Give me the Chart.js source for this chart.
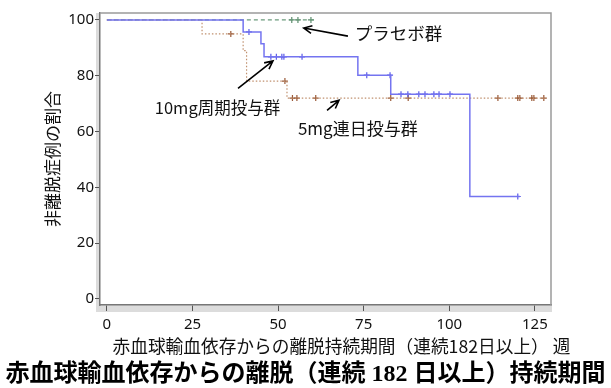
<!DOCTYPE html>
<html>
<head>
<meta charset="utf-8">
<script src="https://cdn.jsdelivr.net/npm/chart.js@4.4.1/dist/chart.umd.min.js"></script>
<style>
  html, body { margin: 0; padding: 0; background: #fff; }
</style>
</head>
<body>
<canvas id="kmChart" width="611" height="388"></canvas>
<script>
// tick labels
var xTicks = [0, 25, 50, 75, 100, 125];
var yTicks = [0, 20, 40, 60, 80, 100];

// placebo
var placeboTime = [0, 60.5];
var placeboRate = [100, 100];
var placeboCensor = [54.0, 55.8, 59.6];

// 10mg cyclic
var cyclicTime = [0, 39.8, 45.0, 45.9, 73.3, 82.9, 106.0, 120.6];
var cyclicRate = [100, 95.7, 91.5, 86.8, 80.2, 73.4, 36.7, 36.7];
var cyclicCensor = [41.5, 47.9, 49.5, 51.1, 51.7, 57.0, 75.9, 82.7, 85.9, 87.9, 91.1, 92.9, 95.5, 97.0, 100.2, 120.0];

// 5mg daily
var dailyTime = [0, 27.8, 39.8, 40.8, 52.6, 128.5];
var dailyRate = [100, 95.0, 89.0, 78.1, 72.0, 72.0];
var dailyCensor = [36.2, 52.0, 54.2, 55.5, 61.0, 82.9, 88.0, 114.2, 120.0, 120.6, 124.1, 124.7, 127.6];

function stepPoints(t, s) {
    return t.map(function(v, i) { return {x: v, y: s[i]}; });
}
function levelAt(t, s, c) {
    var y = s[0];
    for (var i = 0; i < t.length; i++) { if (t[i] <= c) y = s[i]; }
    return y;
}
function censorPoints(t, s, cens) {
    return cens.map(function(c) { return {x: c, y: levelAt(t, s, c)}; });
}

var jpFont = '"Noto Sans CJK JP", sans-serif';

function arrow(ctx, x1, y1, x2, y2) {
    var ang = Math.atan2(y2 - y1, x2 - x1), h = 9;
    ctx.beginPath();
    ctx.moveTo(x1, y1);
    ctx.lineTo(x2, y2);
    ctx.moveTo(x2 - h * Math.cos(ang - 0.45), y2 - h * Math.sin(ang - 0.45));
    ctx.lineTo(x2, y2);
    ctx.lineTo(x2 - h * Math.cos(ang + 0.45), y2 - h * Math.sin(ang + 0.45));
    ctx.stroke();
}

// arrows + group labels, in data units
var notes = [
    {text: "プラセボ群", tx: 72.4, ty: 95.3, from: [70.4, 94.2], to: [57.5, 97.1], size: 17.5},
    {text: "10mg周期投与群", tx: 14.0, ty: 68.7, from: [38.3, 75.5], to: [48.5, 85.3], size: 16.5},
    {text: "5mg連日投与群", tx: 55.8, ty: 61.2, from: [64.3, 67.6], to: [67.8, 71.2], size: 17}
];

var framePlugin = {
    id: "frame",
    beforeDraw: function(chart) {
        var ctx = chart.ctx, a = chart.chartArea;
        ctx.save();
        ctx.fillStyle = "#fff";
        ctx.fillRect(0, 0, chart.width, chart.height);
        ctx.fillStyle = "#dcdcdc";
        ctx.fillRect(a.left - 4, a.top, 4, a.bottom - a.top + 7);
        ctx.fillRect(a.left - 4, a.bottom, a.right - a.left + 5, 7);
        ctx.restore();
    },
    afterDraw: function(chart) {
        var ctx = chart.ctx, a = chart.chartArea;
        var xs = chart.scales.x, ys = chart.scales.y;
        ctx.save();
        ctx.strokeStyle = "#9a9a9a";
        ctx.lineWidth = 1.5;
        ctx.beginPath();
        ctx.moveTo(a.left, a.top);
        ctx.lineTo(a.right, a.top);
        ctx.lineTo(a.right, a.bottom);
        ctx.stroke();

        ctx.fillStyle = "#111";
        ctx.strokeStyle = "#000";
        ctx.lineWidth = 1.6;
        ctx.textBaseline = "middle";
        ctx.textAlign = "left";
        notes.forEach(function(n) {
            ctx.font = n.size + "px " + jpFont;
            ctx.fillText(n.text, xs.getPixelForValue(n.tx), ys.getPixelForValue(n.ty));
            arrow(ctx, xs.getPixelForValue(n.from[0]), ys.getPixelForValue(n.from[1]),
                  xs.getPixelForValue(n.to[0]), ys.getPixelForValue(n.to[1]));
        });

        // x axis title
        ctx.textAlign = "center";
        ctx.font = "17.7px " + jpFont;
        ctx.fillText("赤血球輸血依存からの離脱持続期間（連続182日以上） 週", (a.left + a.right) / 2 + 16, 346);

        // caption under the chart
        ctx.fillStyle = "#000";
        ctx.font = 'bold 24px "Liberation Serif", "Noto Sans CJK JP", serif';
        ctx.fillText("赤血球輸血依存からの離脱（連続 182 日以上）持続期間", chart.width / 2, 375);
        ctx.restore();
    }
};

document.addEventListener("DOMContentLoaded", function() {
    var ctx = document.getElementById("kmChart").getContext("2d");
    new Chart(ctx, {
        type: "line",
        data: {
            datasets: [{
                label: "10mg周期投与群",
                data: stepPoints(cyclicTime, cyclicRate),
                stepped: "before",
                borderColor: "#7474f0",
                borderWidth: 1.5,
                pointRadius: 0,
                fill: false
            }, {
                label: "10mg censored",
                data: censorPoints(cyclicTime, cyclicRate, cyclicCensor),
                showLine: false,
                pointStyle: "cross",
                pointRadius: 3,
                borderColor: "#5a5ae8",
                borderWidth: 1.2
            }, {
                label: "5mg連日投与群",
                data: stepPoints(dailyTime, dailyRate),
                stepped: "before",
                borderColor: "#c0906e",
                borderDash: [1.5, 2],
                borderWidth: 1.2,
                pointRadius: 0,
                fill: false
            }, {
                label: "5mg censored",
                data: censorPoints(dailyTime, dailyRate, dailyCensor),
                showLine: false,
                pointStyle: "cross",
                pointRadius: 3,
                borderColor: "#9a5a38",
                borderWidth: 1.2
            }, {
                label: "プラセボ群",
                data: stepPoints(placeboTime, placeboRate),
                stepped: "before",
                borderColor: "#6b9a7c",
                borderDash: [4, 3],
                borderWidth: 1.2,
                pointRadius: 0,
                fill: false
            }, {
                label: "placebo censored",
                data: censorPoints(placeboTime, placeboRate, placeboCensor),
                showLine: false,
                pointStyle: "cross",
                pointRadius: 3,
                borderColor: "#5f8f6f",
                borderWidth: 1.2
            }]
        },
        options: {
            responsive: false,
            animation: false,
            layout: { padding: { top: 13, right: 60, left: 0, bottom: 26.4 } },
            plugins: {
                legend: { display: false },
                tooltip: { enabled: false }
            },
            scales: {
                x: {
                    type: "linear",
                    min: -2,
                    max: 129.7,
                    afterBuildTicks: function(s) { s.ticks = xTicks.map(function(v) { return {value: v}; }); },
                    afterFit: function(s) { s.height = 56.6; },
                    grid: { drawOnChartArea: false, drawTicks: true, tickLength: 6, color: "#555" },
                    border: { display: true, color: "#777", width: 1.5 },
                    ticks: { padding: 5, color: "#111", maxRotation: 0, font: { family: '"Noto Sans", sans-serif', size: 15 } }
                },
                y: {
                    type: "linear",
                    min: -2.2,
                    max: 102.5,
                    afterBuildTicks: function(s) { s.ticks = yTicks.map(function(v) { return {value: v}; }); },
                    afterFit: function(s) { s.width = 100; },
                    grid: { drawOnChartArea: false, drawTicks: true, tickLength: 5, color: "#555" },
                    border: { display: true, color: "#777", width: 1.5 },
                    ticks: { padding: 1, color: "#111", font: { family: '"Noto Sans", sans-serif', size: 15 } },
                    title: {
                        display: true,
                        text: "非離脱症例の割合",
                        color: "#111",
                        font: { family: jpFont, size: 17 },
                        padding: { top: 42, bottom: 0 }
                    }
                }
            }
        },
        plugins: [framePlugin]
    });
});
</script>
</body>
</html>
